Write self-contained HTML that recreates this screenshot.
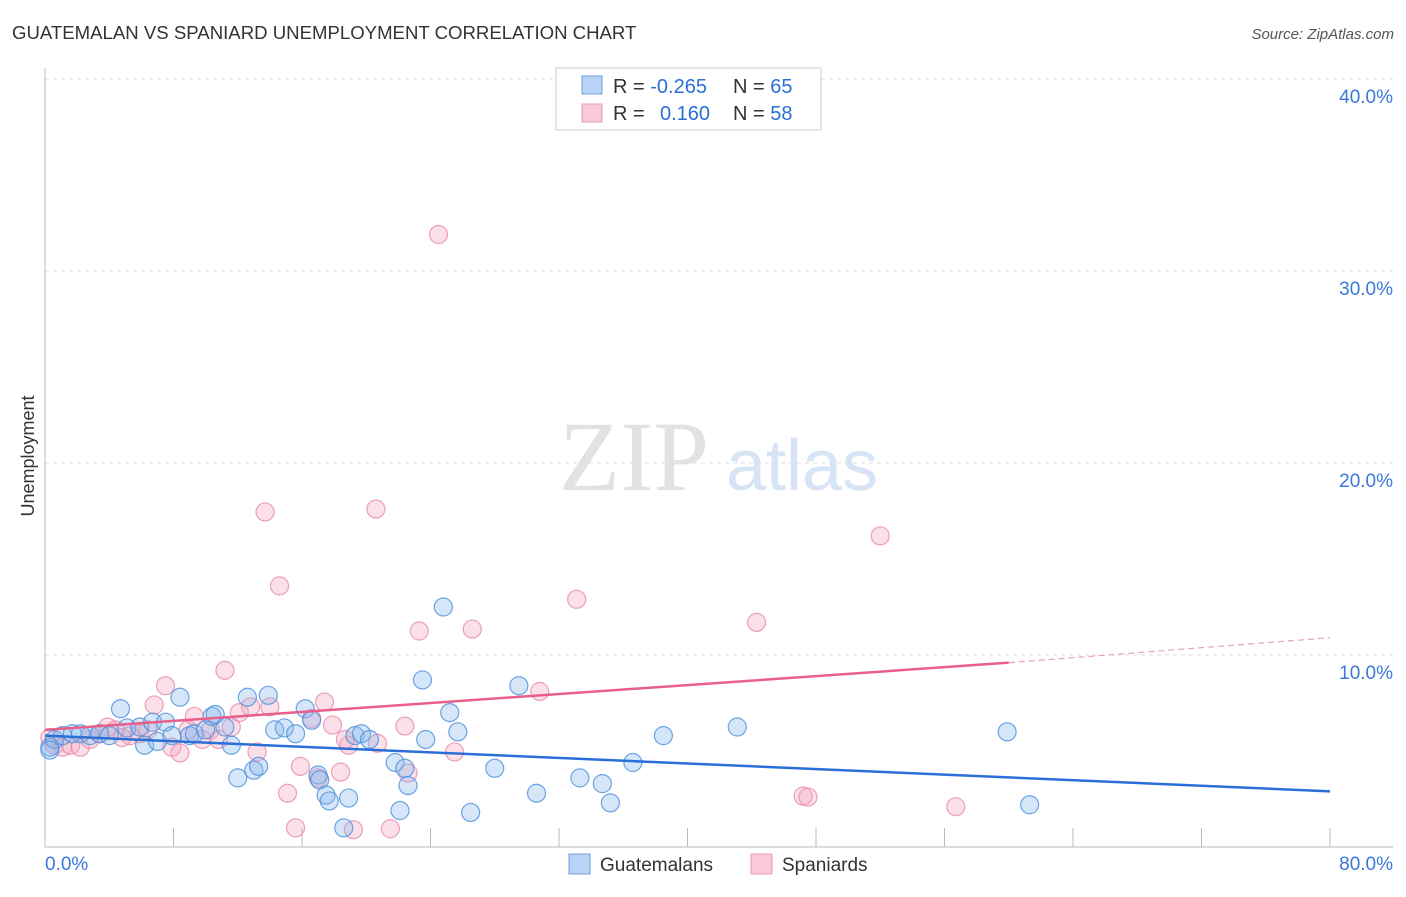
<!DOCTYPE html>
<html><head><meta charset="utf-8"><style>
body{margin:0;background:#fff;font-family:"Liberation Sans",sans-serif}
</style></head><body>
<svg id="c" width="1406" height="892" font-family="Liberation Sans, sans-serif">
<text x="12" y="39" font-size="18.6" fill="#333">GUATEMALAN VS SPANIARD UNEMPLOYMENT CORRELATION CHART</text>
<text x="1394" y="39" font-size="15" fill="#555" font-style="italic" text-anchor="end">Source: ZipAtlas.com</text>
<text x="634" y="490" font-size="100" fill="#e2e2e2" style="font-family:'Liberation Serif',serif" text-anchor="middle">ZIP</text>
<text x="802" y="490" font-size="72" fill="#d6e4f5" text-anchor="middle">atlas</text>
<text x="34" y="456" font-size="18" fill="#333" text-anchor="middle" transform="rotate(-90 34 456)">Unemployment</text>
<g id="grid"></g><g id="pts"></g><g id="trend"></g>
<g>
<rect x="556" y="68" width="265" height="62" fill="#fff" stroke="#ccc"/>
<rect x="582" y="76" width="20" height="18" fill="#b8d3f5" stroke="#6fa0e0"/>
<rect x="582" y="104" width="20" height="18" fill="#f9c9d8" stroke="#eb9ab5"/>
<text x="613" y="93" font-size="20" fill="#333">R = <tspan fill="#2a6fd6">-0.265</tspan><tspan x="733">N = </tspan><tspan fill="#2a6fd6">65</tspan></text>
<text x="613" y="120" font-size="20" fill="#333">R = <tspan x="660" fill="#2a6fd6">0.160</tspan><tspan x="733">N = </tspan><tspan fill="#2a6fd6">58</tspan></text>
</g>
<g>
<rect x="569" y="854" width="21" height="20" fill="#b8d3f5" stroke="#6fa0e0"/>
<text x="600" y="871" font-size="19" fill="#333">Guatemalans</text>
<rect x="751" y="854" width="21" height="20" fill="#f9c9d8" stroke="#eb9ab5"/>
<text x="782" y="871" font-size="19" fill="#333">Spaniards</text>
</g>
</svg>
<script>
const yTicks=[10,20,30,40];
const xTickLabels=["0.0%","80.0%"];
const blueX=[0.3,0.6,1.1,1.7,2.2,2.8,3.4,4.0,4.7,5.1,5.9,6.2,6.7,7.0,7.5,7.9,8.4,9.0,9.3,10.0,10.4,10.6,11.2,11.6,12.0,12.6,13.0,13.3,13.9,14.3,14.9,15.6,16.2,16.6,17.0,17.1,17.5,17.7,18.6,18.9,19.3,19.7,20.2,21.8,22.1,22.4,22.6,23.5,23.7,24.8,25.2,25.7,26.5,28.0,29.5,30.6,33.3,34.7,35.2,36.6,38.5,43.1,59.9,61.3,0.3];
const blueY=[5.2,5.6,5.8,5.9,5.9,5.8,5.9,5.8,7.2,6.2,6.25,5.3,6.5,5.5,6.5,5.8,7.8,5.8,5.9,6.1,6.8,6.9,6.25,5.3,3.6,7.8,4.0,4.2,7.9,6.1,6.2,5.9,7.2,6.6,3.75,3.5,2.7,2.4,1.0,2.55,5.8,5.9,5.6,4.4,1.9,4.1,3.2,8.7,5.6,12.5,7.0,6.0,1.8,4.1,8.4,2.8,3.6,3.3,2.3,4.4,5.8,6.25,6.0,2.2,5.05];
const pinkX=[0.3,0.6,1.1,1.6,2.2,2.8,3.4,3.9,4.4,4.8,5.3,5.9,6.4,6.8,7.5,7.9,8.4,8.9,9.3,9.8,10.3,10.8,11.2,11.6,12.1,12.8,13.2,13.7,14.0,14.6,15.1,15.6,15.9,16.6,17.0,17.4,17.9,18.4,18.9,19.2,20.6,20.7,21.5,22.4,22.6,23.3,24.5,25.5,26.6,30.8,33.1,44.3,47.2,47.5,52.0,56.7,18.7];
const pinkY=[5.7,5.3,5.2,5.3,5.2,5.6,5.9,6.25,6.1,5.7,5.8,5.9,6.1,7.4,8.4,5.2,4.9,6.1,6.8,5.6,6.1,5.6,9.2,6.25,7.0,7.3,4.95,17.45,7.3,13.6,2.8,1.0,4.2,6.7,3.6,7.55,6.35,3.9,5.3,0.9,17.6,5.4,0.95,6.3,3.85,11.25,31.9,4.95,11.35,8.1,12.9,11.7,2.65,2.6,16.2,2.1,5.6];
const blueTrend=[5.8,2.9];
const pinkTrend=[6.1,9.6,10.9];
const sx=v=>45+v*16.0625, sy=v=>847-v*19.2;
const NS="http://www.w3.org/2000/svg";
function mk(tag,parent,attrs){const e=document.createElementNS(NS,tag);for(const k in attrs)e.setAttribute(k,attrs[k]);parent.appendChild(e);return e;}
const grid=document.getElementById('grid');
yTicks.forEach(t=>{
 const l=mk('line',grid,{x1:45,x2:1393,y1:sy(t),y2:sy(t),stroke:'#ddd','stroke-dasharray':'4,4'});
 
 
 const tx=mk('text',grid,{x:1393,y:sy(t)+24,'font-size':19,fill:'#3a78d8','text-anchor':'end'});
 tx.textContent=t.toFixed(1)+'%';
 
 
});
const ax=mk('line',grid,{x1:45,x2:45,y1:68,y2:847,stroke:'#bbb'});


const bx=mk('line',grid,{x1:45,x2:1393,y1:847,y2:847,stroke:'#bbb'});


for(let i=1;i<=10;i++){const t=mk('line',grid,{x1:sx(i*8),x2:sx(i*8),y1:828,y2:847,stroke:'#bbb'});
 
 }
[[0,'start'],[80,'end']].forEach((p,i)=>{const t=mk('text',grid,{x:sx(p[0])+(i?63:0),y:870,'font-size':19,fill:'#3a78d8','text-anchor':p[1]});
 t.textContent=xTickLabels[i];
 
 });
const pts=document.getElementById('pts');
function drawPts(X,Y,fill,stroke,name){X.forEach((x,i)=>{const c=mk('circle',pts,{cx:sx(x),cy:sy(Y[i]),r:9,fill:fill,'fill-opacity':0.35,stroke:stroke,'stroke-width':1.2,'stroke-opacity':0.8});
 
 });}
drawPts(pinkX,pinkY,'#f4a6bf','#e88aaa','spaniard-point');
drawPts(blueX,blueY,'#8ab8ee','#4a8fdc','guatemalan-point');
const tr=document.getElementById('trend');
const b=mk('line',tr,{x1:sx(0),y1:sy(blueTrend[0]),x2:sx(80),y2:sy(blueTrend[1]),stroke:'#2a6fd6','stroke-width':2.5});


const p=mk('line',tr,{x1:sx(0),y1:sy(pinkTrend[0]),x2:sx(60),y2:sy(pinkTrend[1]),stroke:'#e8608a','stroke-width':2.5});


const pd=mk('line',tr,{x1:sx(60),y1:sy(pinkTrend[1]),x2:sx(80),y2:sy(pinkTrend[2]),stroke:'#e8a0b8','stroke-width':1.2,'stroke-dasharray':'6,4'});


</script>
</body></html>
